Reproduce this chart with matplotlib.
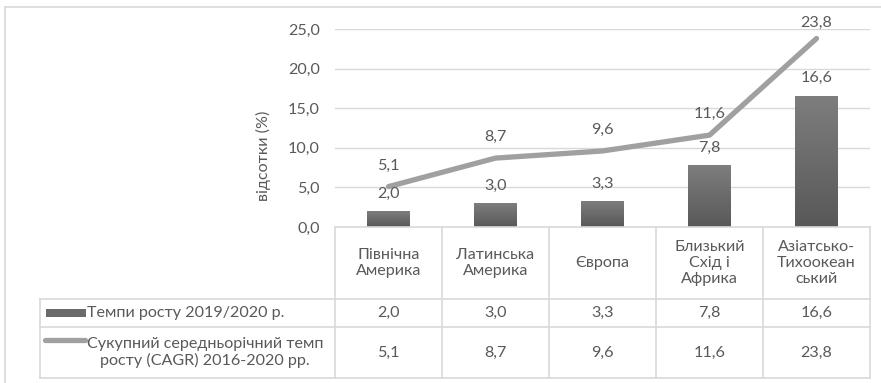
import numpy as np
import matplotlib
matplotlib.use("Agg")
import matplotlib.pyplot as plt
from matplotlib.lines import Line2D
from matplotlib.patches import Rectangle
from matplotlib.transforms import blended_transform_factory
from matplotlib.colors import LinearSegmentedColormap

categories = ["Північна\nАмерика", "Латинська\nАмерика", "Європа",
              "Близький\nСхід і\nАфрика", "Азіатсько-\nТихоокеан\nський"]
growth_2019_2020 = [2.0, 3.0, 3.3, 7.8, 16.6]
cagr_2016_2020 = [5.1, 8.7, 9.6, 11.6, 23.8]
series_names = ["Темпи росту 2019/2020 р.",
                "Сукупний середньорічний темп\nросту (CAGR) 2016-2020 рр."]
yticks = [0, 5, 10, 15, 20, 25]
ylabel = "відсотки (%)"

def fmt(v):
    return f"{v:.1f}".replace(".", ",")

plt.rcParams['font.family'] = ['Lato', 'DejaVu Sans']
FS = 11.6
TXT = "#595959"
GRID = "#d9d9d9"
LINEC = "#a0a0a0"

W, H = 881, 383
fig = plt.figure(figsize=(W / 100, H / 100), dpi=100)

def fx(x):
    return x / W

def fy(y):
    return 1 - y / H

L, R, T, B = 335, 870, 29, 227
ax = fig.add_axes([fx(L), fy(B), fx(R) - fx(L), fy(T) - fy(B)])
x = np.arange(len(categories))
for s in ax.spines.values():
    s.set_visible(False)
ax.set_xticks([])
ax.set_yticks(yticks)
ax.set_yticklabels([fmt(v) for v in yticks], fontsize=FS, color=TXT)
ax.tick_params(axis='y', length=0, pad=11)
ax.grid(axis='y', color=GRID, linewidth=1.0)
ax.set_axisbelow(True)

# bars with vertical gradient
bars = ax.bar(x, growth_2019_2020, width=0.40, color="#6a6a6a", zorder=2)
grad = np.linspace(0, 1, 256).reshape(-1, 1)
cmap = LinearSegmentedColormap.from_list("g", ["#585858", "#7e7e7e"])
for b in bars:
    x0, y0 = b.get_x(), b.get_y()
    w, h = b.get_width(), b.get_height()
    im = ax.imshow(grad, extent=[x0, x0 + w, y0, y0 + h], origin='lower',
                   cmap=cmap, aspect='auto', zorder=2.1)
    im.set_clip_path(b)
ax.set_xlim(-0.5, len(categories) - 0.5)
ax.set_ylim(0, 25)

ax.plot(x, cagr_2016_2020, color=LINEC, linewidth=3.8, solid_capstyle='round',
        solid_joinstyle='round', zorder=3)

for xi, v in zip(x, growth_2019_2020):
    ax.annotate(fmt(v), (xi, v), xytext=(0, 12.5), textcoords='offset points',
                ha='center', va='center', fontsize=FS, color=TXT, zorder=4)
for xi, v in zip(x, cagr_2016_2020):
    off = 15 if v < 20 else 11
    ax.annotate(fmt(v), (xi, v), xytext=(0, off), textcoords='offset points',
                ha='center', va='center', fontsize=FS, color=TXT, zorder=4)

fig.text(fx(263), fy(156), ylabel, rotation=90, ha='center', va='center',
         fontsize=FS, color=TXT)

# data table
tr = blended_transform_factory(ax.transData, fig.transFigure)
row_top, row1, row2, row_bot = 227, 299, 327, 378
bounds = np.arange(len(categories) + 1) - 0.5
for bx in bounds:
    fig.add_artist(Line2D([bx, bx], [fy(row_top), fy(row_bot)], transform=tr,
                          color=GRID, linewidth=1.2))
fig.add_artist(Line2D([bounds[0], bounds[-1]], [fy(row_top)] * 2, transform=tr,
                      color=GRID, linewidth=1.2))
for yy in (row1, row2, row_bot):
    fig.add_artist(Line2D([fx(40), fx(R)], [fy(yy)] * 2, color=GRID, linewidth=1.2))
fig.add_artist(Line2D([fx(40), fx(40)], [fy(row1), fy(row_bot)], color=GRID, linewidth=1.2))

for xi, c in zip(x, categories):
    fig.text(xi, fy((row_top + row1) / 2), c, transform=tr, ha='center', va='center',
             fontsize=FS, color=TXT, linespacing=1.2)
for xi, v in zip(x, growth_2019_2020):
    fig.text(xi, fy((row1 + row2) / 2), fmt(v), transform=tr, ha='center', va='center',
             fontsize=FS, color=TXT)
for xi, v in zip(x, cagr_2016_2020):
    fig.text(xi, fy((row2 + row_bot) / 2), fmt(v), transform=tr, ha='center', va='center',
             fontsize=FS, color=TXT)

# legend keys
fig.add_artist(Rectangle((fx(46), fy(317)), fx(86) - fx(46), fy(309) - fy(317),
                         color="#6a6a6a", linewidth=0))
fig.add_artist(Line2D([fx(45), fx(85)], [fy(340)] * 2, color=LINEC, linewidth=3.8,
                      solid_capstyle='round'))
fig.text(fx(87), fy((row1 + row2) / 2), series_names[0], ha='left', va='center',
         fontsize=FS, color=TXT)
fig.text(fx(87), fy((row2 + row_bot) / 2), series_names[1], ha='left', va='center',
         fontsize=FS, color=TXT, multialignment='center', linespacing=1.2)

# outer chart frame (top and left edges visible)
fig.add_artist(Line2D([fx(5), fx(W)], [fy(7)] * 2, color=GRID, linewidth=1.2))
fig.add_artist(Line2D([fx(5), fx(5)], [fy(7), fy(H)], color=GRID, linewidth=1.2))

fig.savefig("out.png", dpi=100)
